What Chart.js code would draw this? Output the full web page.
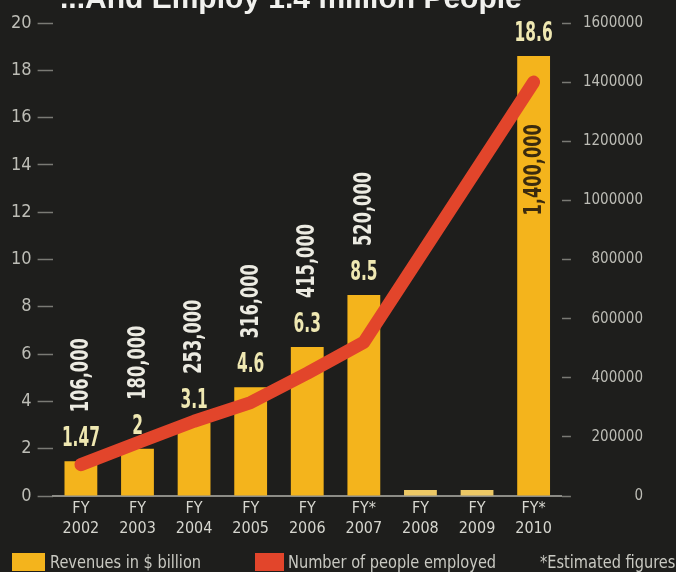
<!DOCTYPE html>
<html>
<head>
<meta charset="utf-8">
<script src="https://cdn.jsdelivr.net/npm/chart.js@4.4.1/dist/chart.umd.min.js"></script>
<style>
  html, body { margin: 0; padding: 0; background: #1e1e1c; }
  #wrap { position: relative; width: 676px; height: 572px; overflow: hidden; background: #1e1e1c; }
  #c { position: absolute; left: 0; top: 0; }
  #title { position: absolute; left: 60px; top: -17px; font: bold 30px "Liberation Sans", Arial, sans-serif; color: #f1f1ee; white-space: nowrap; line-height: 30px; }
  .leg { position: absolute; top: 552px; height: 20px; line-height: 20px; color: #c9c9c2; font-size: 18px; white-space: nowrap; transform: scaleX(0.9); transform-origin: left center; }
  .sw { position: absolute; top: 553px; height: 18px; }
</style>
</head>
<body>
<div id="wrap">
  <canvas id="c" width="676" height="572"></canvas>
  <div id="title">...And Employ 1.4 million People</div>
  <div class="sw" style="left:12px;width:33px;background:#f4b41c"></div>
  <div class="leg" id="l1" style="left:50px">Revenues in $ billion</div>
  <div class="sw" style="left:255px;width:29px;background:#e2452b"></div>
  <div class="leg" id="l2" style="left:288px">Number of people employed</div>
  <div class="leg" id="l3" style="left:540px">*Estimated figures</div>
</div>
<script>
// ---- data ----
const categories = [["FY","2002"],["FY","2003"],["FY","2004"],["FY","2005"],["FY","2006"],["FY*","2007"],["FY","2008"],["FY","2009"],["FY*","2010"]];
const revenues = [1.47, 2, 3.1, 4.6, 6.3, 8.5, 0.25, 0.25, 18.6];
const revenueLabels = ["1.47", "2", "3.1", "4.6", "6.3", "8.5", "", "", "18.6"];
const employees = [106000, 180000, 253000, 316000, 415000, 520000, null, null, 1400000];
const employeeLabels = ["106,000", "180,000", "253,000", "316,000", "415,000", "520,000", "", "", "1,400,000"];

function hasFont(name) {
  const c = document.createElement('canvas').getContext('2d');
  const s = 'abcdefghij0123456789';
  c.font = '40px monospace'; const a = c.measureText(s).width;
  c.font = '40px "' + name + '", monospace'; const b = c.measureText(s).width;
  return Math.abs(a - b) > 0.5;
}
let NARROW;
if (hasFont('Liberation Sans Narrow')) NARROW = '"Liberation Sans Narrow"';
else if (hasFont('DejaVu Sans Condensed')) NARROW = '"DejaVu Sans Condensed"';
else if (hasFont('Roboto Condensed')) NARROW = '"Roboto Condensed"';
else NARROW = '"Liberation Sans"';
document.querySelectorAll('.leg').forEach(e => e.style.fontFamily = NARROW + ', sans-serif');

const GOLD = '#f4b41c';
const PALE = '#ecc865';

function fitScale(ctx, text, targetW) {
  const w = ctx.measureText(text).width;
  return w > 0 ? Math.min(1, targetW / w) : 1;
}

const labelPlugin = {
  id: 'valueLabels',
  afterDatasetsDraw(chart) {
    const ctx = chart.ctx;
    const barIndex = chart.data.datasets.findIndex(d => d.type === 'bar');
    const meta = chart.getDatasetMeta(barIndex);
    const area = chart.chartArea;
    ctx.save();
    ctx.font = 'bold 26px ' + NARROW + ', sans-serif';
    const sRev = fitScale(ctx, '1.47', 38);
    ctx.font = 'bold 24px ' + NARROW + ', sans-serif';
    const sEmp = fitScale(ctx, '106,000', 74);
    meta.data.forEach((bar, i) => {
      if (!revenueLabels[i]) return;
      const x = bar.x, top = bar.y;
      ctx.font = 'bold 26px ' + NARROW + ', sans-serif';
      ctx.fillStyle = '#efe8b2';
      ctx.textAlign = 'center';
      ctx.textBaseline = 'alphabetic';
      const revBase = top - 15;
      ctx.save();
      ctx.translate(x, revBase);
      ctx.scale(sRev, 1);
      ctx.fillText(revenueLabels[i], 0, 0);
      ctx.restore();
      const t = employeeLabels[i];
      if (!t) return;
      ctx.font = 'bold 24px ' + NARROW + ', sans-serif';
      const w = ctx.measureText(t).width * sEmp;
      let bottom = revBase - 19 - 15;
      let color = '#ecebe2';
      if (bottom - w < area.top) {
        bottom = top + 68 + w;
        color = '#3a2a0e';
      }
      ctx.save();
      ctx.translate(x, bottom);
      ctx.rotate(-Math.PI / 2);
      ctx.scale(sEmp, 1);
      ctx.fillStyle = color;
      ctx.textAlign = 'left';
      ctx.textBaseline = 'middle';
      ctx.fillText(t, 0, 1);
      ctx.restore();
    });
    ctx.restore();
  }
};

const fam = NARROW + ', sans-serif';

new Chart(document.getElementById('c'), {
  type: 'bar',
  data: {
    labels: categories,
    datasets: [
      {
        type: 'line',
        label: 'Number of people employed',
        data: employees,
        yAxisID: 'y1',
        borderColor: '#e2452b',
        borderWidth: 13,
        borderCapStyle: 'round',
        borderJoinStyle: 'round',
        pointRadius: 0,
        spanGaps: true,
        tension: 0,
        order: 0
      },
      {
        type: 'bar',
        label: 'Revenues in $ billion',
        data: revenues,
        yAxisID: 'y',
        backgroundColor: c => employees[c.dataIndex] == null ? PALE : GOLD,
        categoryPercentage: 0.58,
        barPercentage: 1,
        order: 1
      }
    ]
  },
  options: {
    responsive: false,
    animation: false,
    devicePixelRatio: 1,
    layout: { padding: { left: 5, right: 33, top: 23, bottom: 30 } },
    plugins: { legend: { display: false }, tooltip: { enabled: false }, title: { display: false } },
    scales: {
      x: {
        grid: { display: false, drawTicks: false },
        border: { display: true, color: '#8c8c86', width: 2 },
        ticks: { color: '#d6d6cf', font: { family: fam, size: 16, lineHeight: 1.25 }, padding: 3, maxRotation: 0, autoSkip: false }
      },
      y: {
        position: 'left',
        min: 0, max: 20,
        grid: { drawOnChartArea: false, tickLength: 15, tickColor: '#7a7a74', tickWidth: 1.5 },
        border: { display: false },
        ticks: { stepSize: 2, color: '#bdbdb6', font: { family: fam, size: 18 }, padding: 6 }
      },
      y1: {
        position: 'right',
        min: 0, max: 1600000,
        grid: { drawOnChartArea: false, tickLength: 9, tickColor: '#7a7a74', tickWidth: 1.5 },
        border: { display: false },
        ticks: { stepSize: 200000, color: '#bdbdb6', font: { family: fam, size: 15 }, padding: 6, crossAlign: 'far', callback: v => String(v) }
      }
    }
  },
  plugins: [labelPlugin]
});
</script>
</body>
</html>
